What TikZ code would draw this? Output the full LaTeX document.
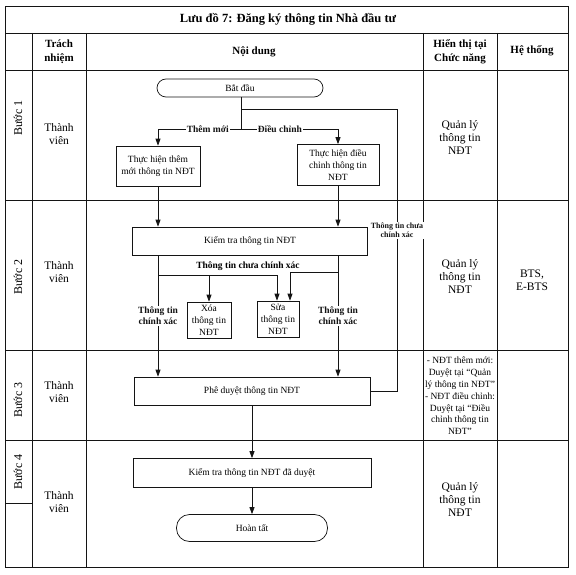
\documentclass[tikz,border=0pt]{standalone}
\usepackage{fontspec}
\setmainfont{Liberation Serif}
\usepackage{tikz}
\usetikzlibrary{arrows.meta, positioning, calc}
\definecolor{mydark}{RGB}{20,20,20}
\tikzset{
  grid/.style={line width=0.8pt, color=mydark},
  box/.style={rectangle, draw=mydark, fill=white, align=center,
    font=\fontsize{9.5}{12}\selectfont, line width=0.7pt, inner sep=1pt},
  termbox/.style={box, rounded corners=9pt},
  arrow/.style={-{Triangle[length=7pt,width=5pt]}, line width=0.8pt, color=mydark},
  line/.style={line width=0.8pt, color=mydark},
  lbl/.style={font=\bfseries\fontsize{9.5}{11}\selectfont, fill=white,
    inner sep=1pt, align=center},
  cell/.style={align=center, font=\fontsize{11.5}{13}\selectfont},
  head/.style={align=center, font=\bfseries\fontsize{11}{14}\selectfont}
}

\begin{document}
\begin{tikzpicture}[x=1pt, y=-1pt]
  \useasboundingbox (0,0) rectangle (576,575);
  % Table frame
  \draw[grid] (5,6) rectangle (568,567);
  \draw[grid] (5,33) -- (568,33);
  \draw[grid] (5,70) -- (568,70);
  \foreach \y in {200,350,440} \draw[grid] (5,\y) -- (568,\y);
  \foreach \x in {32,86,423,497} \draw[grid] (\x,33) -- (\x,567);
  \draw[grid] (5,503) -- (32,503);
  % Title and header
  \node[font=\bfseries\fontsize{12.5}{14}\selectfont] (title) at (288,19) {Lưu đồ 7: Đăng ký thông tin Nhà đầu tư};
  \node[head] (hresp) at (59,52) {Trách\\nhiệm};
  \node[head] (hcont) at (254,52) {Nội dung};
  \node[head] (hshow) at (460,52) {Hiển thị tại\\Chức năng};
  \node[head] (hsys) at (532,51) {Hệ thống};
  % Step column
  \foreach \n/\y in {1/118,2/277,3/400,4/472}
    \node[cell, rotate=90, font=\fontsize{12}{14}\selectfont] (step\n) at (18,\y) {Bước \n};
  \foreach \n/\y in {1/134,2/272,3/392,4/502}
    \node[cell] (who\n) at (59,\y) {Thành\\viên};
  % Display / system column
  \node[cell] (show1) at (460,138) {Quản lý\\thông tin\\NĐT};
  \node[cell] (show2) at (460,277) {Quản lý\\thông tin\\NĐT};
  \node[cell, font=\fontsize{9.5}{11.8}\selectfont] (show3) at (460,396)
    {- NĐT thêm mới:\\Duyệt tại “Quản\\lý thông tin NĐT”\\- NĐT điều chỉnh:\\Duyệt tại “Điều\\chỉnh thông tin\\NĐT”};
  \node[cell] (show4) at (460,500) {Quản lý\\thông tin\\NĐT};
  \node[cell] (sys2) at (532,280) {BTS,\\E-BTS};
  % Flow
  \node[termbox, minimum width=166pt, minimum height=18pt] (start) at (240,88) {Bắt đầu};
  \node[box, minimum width=84pt, minimum height=40pt] (addnew) at (158,166) {Thực hiện thêm\\mới thông tin NĐT};
  \node[box, minimum width=82pt, minimum height=41pt] (edit) at (338,165) {Thực hiện điều\\chỉnh thông tin\\NĐT};
  \node[box, minimum width=235pt, minimum height=28pt] (check) at (250,241) {Kiểm tra thông tin NĐT};
  \node[box, minimum width=44pt, minimum height=36pt, inner sep=0pt] (del) at (209,320) {Xóa\\thông tin\\NĐT};
  \node[box, minimum width=42pt, minimum height=36pt, inner sep=0pt] (fix) at (278,319) {Sửa\\thông tin\\NĐT};
  \node[box, minimum width=236pt, minimum height=28pt] (approve) at (252,391) {Phê duyệt thông tin NĐT};
  \node[box, minimum width=238pt, minimum height=29pt] (recheck) at (252,473) {Kiểm tra thông tin NĐT đã duyệt};
  \node[termbox, rounded corners=13pt, minimum width=151pt, minimum height=27pt] (done) at (252,528) {Hoàn tất};
  % Connectors
  \coordinate (fork) at (241,129);
  \coordinate (fbturn) at (397,109);
  \draw[line] (start.south -| fork) -- (fork);
  \draw[arrow] (fork) -| node[lbl, pos=0.2] {Thêm mới} (addnew.north);
  \draw[arrow] (fork) -| node[lbl, pos=0.2] {Điều chỉnh} (edit.north);
  \draw[line] (fork |- fbturn) -- (fbturn) |- node[lbl, pos=0.215, font=\bfseries\fontsize{8}{9.5}\selectfont] {Thông tin chưa\\chính xác} (approve.east);
  \draw[arrow] (addnew.south) -- (addnew.south |- check.north);
  \draw[arrow] (edit.south) -- (edit.south |- check.north);
  \draw[arrow] (check.south -| addnew) -- node[lbl, pos=0.5] {Thông tin\\chính xác} (approve.north -| addnew);
  \draw[arrow] (check.south -| edit) -- node[lbl, pos=0.5] {Thông tin\\chính xác} (approve.north -| edit);
  \coordinate (wrongL) at (158,275);
  \coordinate (wrongR) at (338,272);
  \node[lbl, fill=none] (wronglbl) at (248,266) {Thông tin chưa chính xác};
  \draw[arrow] (wrongL) -| ([xshift=-1pt]fix.north);
  \draw[arrow] (wrongL -| del.north) -- (del.north);
  \draw[arrow] (wrongR) -| ([xshift=12pt]fix.north);
  \draw[arrow] (approve.south) -- (recheck.north);
  \draw[arrow] (recheck.south) -- (done.north);
\end{tikzpicture}
\end{document}
